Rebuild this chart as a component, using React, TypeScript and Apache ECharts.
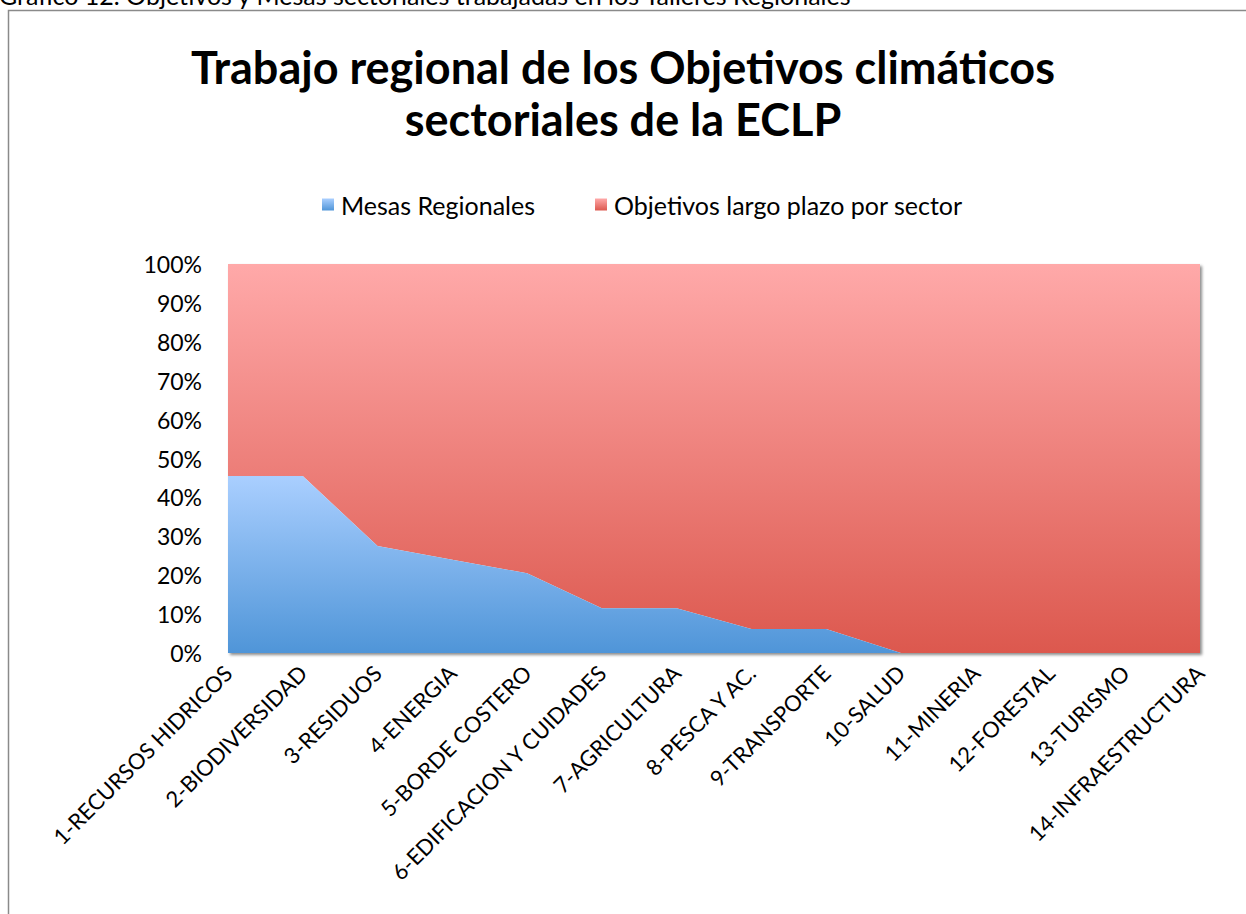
import React, { useEffect, useRef } from "react";
import * as echarts from "echarts";

const categories = [
  "1-RECURSOS HIDRICOS",
  "2-BIODIVERSIDAD",
  "3-RESIDUOS",
  "4-ENERGIA",
  "5-BORDE COSTERO",
  "6-EDIFICACION Y CUIDADES",
  "7-AGRICULTURA",
  "8-PESCA Y AC.",
  "9-TRANSPORTE",
  "10-SALUD",
  "11-MINERIA",
  "12-FORESTAL",
  "13-TURISMO",
  "14-INFRAESTRUCTURA",
];

// share (%) of each sector worked in the regional tables
const mesasRegionales = [45.5, 45.5, 27.5, 24, 20.5, 11.5, 11.5, 6.2, 6.2, 0, 0, 0, 0, 0];
// remainder up to 100 %
const objetivosLargoPlazo = [54.5, 54.5, 72.5, 76, 79.5, 88.5, 88.5, 93.8, 93.8, 100, 100, 100, 100, 100];

const yTicks = [0, 10, 20, 30, 40, 50, 60, 70, 80, 90, 100];

const FONT = "Lato, 'Open Sans', 'DejaVu Sans', sans-serif";

export default function App() {
  const ref = useRef<HTMLDivElement>(null);
  useEffect(() => {
    if (!ref.current) return;
    const chart = echarts.init(ref.current, null, { renderer: "svg" });
    const blueGrad = new echarts.graphic.LinearGradient(0, 0, 0, 1, [
      { offset: 0, color: "#aacfff" },
      { offset: 1, color: "#4f95d8" },
    ]);
    const redGrad = new echarts.graphic.LinearGradient(0, 0, 0, 1, [
      { offset: 0, color: "#ffa9a9" },
      { offset: 1, color: "#dc584e" },
    ]);
    chart.setOption({
      animation: false,
      backgroundColor: "#ffffff",
      textStyle: { fontFamily: FONT },
      title: {
        text: "Trabajo regional de los Objetivos climáticos\nsectoriales de la ECLP",
        left: "center",
        top: 36,
        textStyle: {
          fontFamily: FONT,
          fontSize: 45,
          fontWeight: "bold",
          color: "#000000",
          lineHeight: 52,
        },
      },
      legend: {
        top: 187,
        left: 317,
        itemWidth: 12,
        itemHeight: 12,
        itemGap: 60,
        icon: "rect",
        textStyle: { fontFamily: FONT, fontSize: 25, color: "#000000", padding: [0, 0, 0, 2] },
        data: [
          { name: "Mesas Regionales", itemStyle: { color: blueGrad } },
          { name: "Objetivos largo plazo por sector", itemStyle: { color: redGrad } },
        ],
      },
      grid: {
        left: 228,
        right: 46,
        top: 264,
        bottom: 261,
        show: true,
        borderWidth: 0,
        backgroundColor: "#ffffff",
        shadowColor: "rgba(0,0,0,0.45)",
        shadowBlur: 3,
        shadowOffsetX: 2,
        shadowOffsetY: 2,
      },
      xAxis: {
        type: "category",
        data: categories,
        boundaryGap: false,
        axisLine: { show: false },
        axisTick: { show: false },
        axisLabel: {
          rotate: 45,
          interval: 0,
          margin: 16,
          fontFamily: FONT,
          fontSize: 22,
          color: "#000000",
        },
      },
      yAxis: {
        type: "value",
        min: 0,
        max: 100,
        interval: 10,
        axisLine: { show: false },
        axisTick: { show: false },
        splitLine: { show: false },
        axisLabel: {
          margin: 26,
          fontFamily: FONT,
          fontSize: 23,
          color: "#000000",
          formatter: (v: number) => (yTicks.includes(v) ? `${v}%` : ""),
        },
      },
      graphic: [
        {
          type: "rect",
          shape: { x: 8.5, y: 10.5, width: 1260, height: 940 },
          style: { fill: "none", stroke: "#8a8a8a", lineWidth: 1.5 },
          z: 10,
        },
        {
          type: "text",
          x: -1,
          y: -5,
          style: {
            text: "Gráfico 12. Objetivos y Mesas sectoriales trabajadas en los Talleres Regionales",
            font: `25px ${FONT}`,
            fill: "#000000",
            verticalAlign: "middle",
          },
        },
      ],
      series: [
        {
          name: "Mesas Regionales",
          type: "line",
          stack: "total",
          data: mesasRegionales,
          symbol: "none",
          lineStyle: { width: 0 },
          areaStyle: { color: blueGrad, opacity: 1 },
          itemStyle: { color: blueGrad },
          z: 3,
        },
        {
          name: "Objetivos largo plazo por sector",
          type: "line",
          stack: "total",
          data: objetivosLargoPlazo,
          symbol: "none",
          lineStyle: { width: 0 },
          areaStyle: { color: redGrad, opacity: 1 },
          itemStyle: { color: redGrad },
          z: 2,
        },
      ],
    });
    return () => chart.dispose();
  }, []);
  return (
    <div
      ref={ref}
      style={{ position: "fixed", left: 0, top: 0, width: 1246, height: 914 }}
    />
  );
}
